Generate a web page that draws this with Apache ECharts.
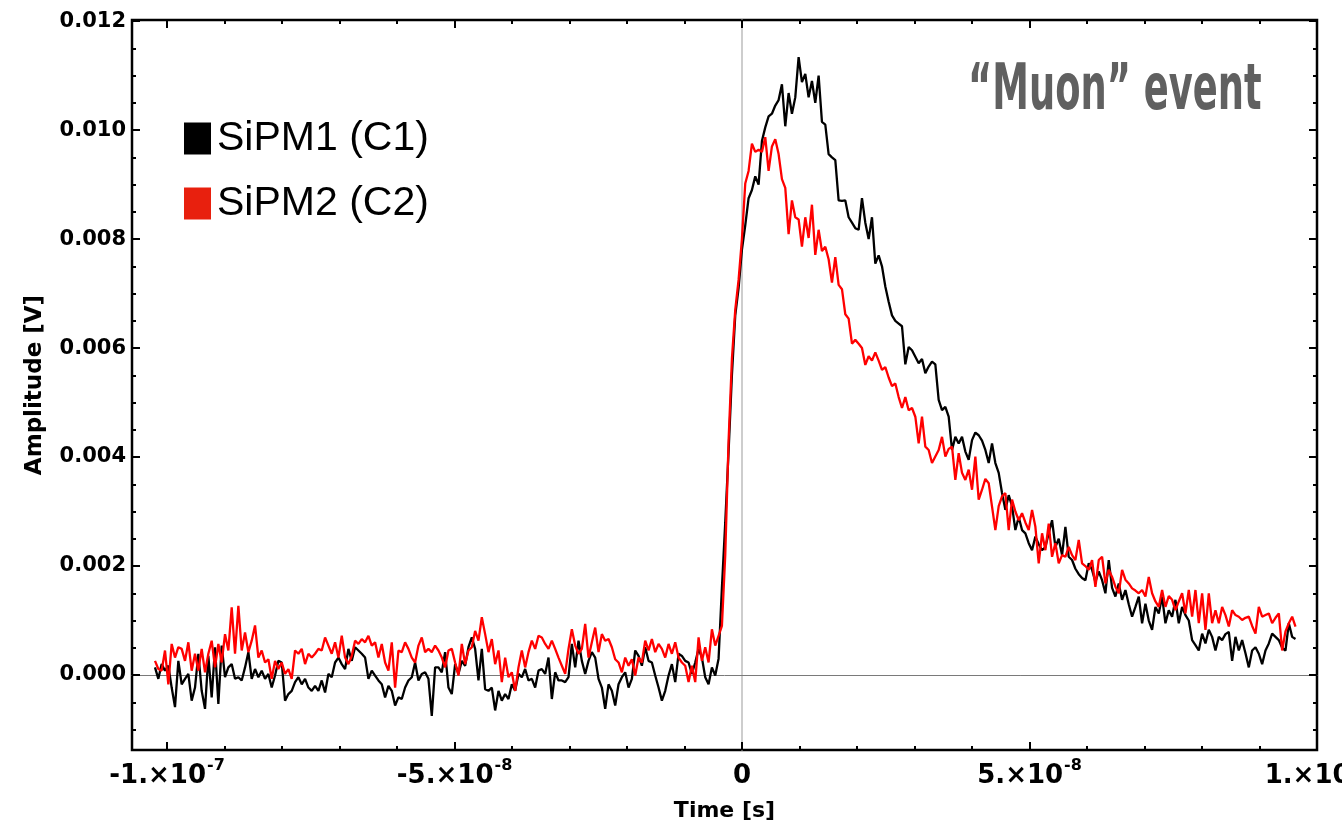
<!DOCTYPE html>
<html>
<head>
<meta charset="utf-8">
<script src="https://cdn.jsdelivr.net/npm/echarts@6/dist/echarts.min.js"></script>
<style>
html,body{margin:0;padding:0;background:#ffffff;}
#chart{width:1342px;height:832px;}
</style>
</head>
<body>
<div id="chart"></div>
<script>
// ---- sample grid (time of first sample and spacing, in ns) ----
const tStartNs = -102.1;
const tStepNs = 0.58;

// ---- SiPM1 (C1) amplitude, mV ----
const sipm1_mV = [
0.14,-0.07,0.20,0.08,0.17,-0.23,-0.59,0.26,-0.17,-0.07,
0.02,-0.47,-0.23,0.39,-0.29,-0.62,0.35,-0.41,0.51,-0.53,
0.54,-0.04,0.14,0.20,-0.07,-0.04,-0.10,0.14,0.42,-0.07,
0.11,-0.04,0.08,-0.07,0.02,-0.23,-0.01,0.26,0.23,-0.47,
-0.35,-0.29,-0.13,-0.04,-0.17,-0.07,-0.23,-0.29,-0.20,-0.29,
-0.10,-0.32,0.02,-0.04,0.23,0.32,0.20,0.11,0.48,0.26,
0.51,0.45,0.39,0.32,-0.07,0.08,-0.01,-0.10,-0.17,-0.41,
-0.20,-0.29,-0.56,-0.41,-0.44,-0.23,-0.10,-0.04,0.23,-0.10,
0.02,0.05,-0.07,-0.75,0.14,0.14,
0.05,0.42,-0.23,-0.35,0.20,0.02,0.26,0.17,0.51,0.69,
0.48,-0.10,0.48,-0.26,-0.29,-0.23,-0.65,-0.29,-0.47,-0.35,
-0.44,-0.17,-0.29,0.02,-0.04,0.11,-0.10,-0.07,-0.23,0.08,
0.11,0.02,0.32,-0.44,0.05,-0.10,-0.10,-0.13,-0.04,0.57,
0.14,0.63,0.26,0.02,0.26,0.42,0.32,-0.07,-0.23,-0.62,
-0.17,-0.29,-0.56,-0.17,-0.04,0.05,-0.23,-0.07,0.45,0.35,
0.17,0.51,0.26,0.23,-0.01,-0.23,-0.47,-0.29,-0.01,0.20,
-0.13,0.39,0.35,0.26,0.23,0.02,0.23,0.48,0.32,-0.04,
-0.17,0.14,-0.01,0.30,
1.6,2.8,4.1,5.5,6.6,7.1,7.8,8.25,8.75,8.9,
9.15,9.0,9.8,10.05,10.25,10.3,10.45,10.55,10.84,10.07,
10.68,10.3,10.6,11.34,10.88,11.03,10.6,10.9,10.5,11.0,
10.15,10.1,9.56,9.5,9.45,8.71,8.7,8.71,8.4,8.3,
8.2,8.17,8.75,8.3,8.0,8.4,7.55,7.7,
7.5,7.13,6.85,6.6,6.5,6.45,6.4,5.7,6.02,5.96,
5.84,5.72,5.8,5.54,5.66,5.75,5.7,5.05,4.86,4.92,
4.74,4.13,4.37,4.25,4.37,4.1,3.95,4.31,4.45,4.4,
4.3,4.13,3.89,4.25,3.89,3.71,3.34,3.03,3.3,3.1,
2.66,2.9,2.66,2.6,2.42,2.29,2.54,2.4,2.29,2.35,
2.6,2.84,2.35,2.5,2.2,2.72,2.17,2.11,1.95,1.85,
1.78,1.74,2.05,1.93,1.71,1.9,1.74,1.5,2.11,1.6,
1.44,1.68,1.38,1.56,1.3,1.07,1.25,1.44,0.95,1.31,
1.0,0.83,1.25,1.13,1.44,0.95,1.19,1.07,1.38,0.95,
1.25,1.1,1.0,0.64,0.55,0.45,0.76,0.58,0.83,0.7,
0.45,0.7,0.64,0.75,0.79,0.26,0.7,0.45,0.64,0.4,
0.14,0.45,0.51,0.39,0.2,0.45,0.58,0.76,0.7,0.64,
0.5,0.45,0.95,0.7,0.66
];

// ---- SiPM2 (C2) amplitude, mV ----
const sipm2_mV = [
0.26,0.11,0.08,0.45,-0.17,0.57,0.32,0.51,0.48,0.26,
0.60,0.08,0.39,0.08,0.48,0.05,0.39,0.63,0.14,0.57,
0.23,0.75,0.45,1.24,0.39,1.27,0.45,0.78,0.42,0.63,
0.91,0.32,0.45,0.23,0.29,-0.07,0.26,0.11,0.23,0.02,
0.11,-0.07,0.45,0.39,0.48,0.20,0.39,0.32,0.39,0.48,
0.45,0.69,0.54,0.39,0.60,0.32,0.72,0.32,0.20,0.35,
0.63,0.57,0.66,0.60,0.72,0.54,0.60,0.32,0.57,0.23,
0.08,0.60,-0.23,0.45,0.42,0.60,0.48,0.32,0.23,0.54,
0.69,0.42,0.48,0.42,0.54,0.45,
0.32,0.14,0.45,0.48,0.23,-0.01,0.57,0.20,0.45,0.51,
0.81,0.63,1.06,0.75,0.42,0.66,0.20,0.45,-0.13,0.32,
-0.04,0.05,-0.29,0.14,0.45,0.14,0.42,0.63,0.48,0.72,
0.69,0.57,0.48,0.63,0.48,0.32,0.17,0.02,0.48,0.84,
0.54,0.39,0.48,0.94,0.32,0.60,0.87,0.42,0.75,0.63,
0.66,0.51,0.29,0.23,0.05,0.32,0.17,0.29,-0.01,0.32,
0.23,0.63,0.45,0.66,0.42,0.57,0.48,0.32,0.57,0.39,
0.60,0.32,0.23,0.17,-0.13,0.17,-0.13,0.69,0.26,0.51,
0.23,0.84,0.54,0.72,
0.9,2.2,4.3,5.8,6.7,7.25,8.0,9.02,9.25,9.75,
9.6,9.64,9.6,9.87,9.25,9.7,9.83,9.56,9.1,8.94,
8.09,8.71,8.4,8.36,7.86,8.4,8.02,8.63,7.71,8.17,
7.78,7.86,7.63,7.2,7.67,7.16,7.08,6.62,6.54,6.08,
6.15,6.08,6.0,5.69,5.85,5.77,5.92,5.77,
5.6,5.65,5.46,5.3,5.35,5.1,4.9,5.1,4.86,4.9,
4.74,4.25,4.74,4.19,4.13,3.89,4.01,4.13,4.37,4.01,
4.15,4.19,3.58,4.07,3.71,3.58,3.77,3.4,4.01,3.22,
3.4,3.6,3.52,3.09,2.66,3.1,3.28,3.34,2.66,3.22,
3.0,2.84,2.97,2.8,2.66,3.03,2.72,2.05,2.6,2.29,
2.78,2.17,2.42,2.05,2.2,2.17,2.35,2.2,2.11,2.48,
2.05,2.0,1.93,2.11,1.62,2.11,2.17,1.68,1.93,1.8,
1.62,1.5,1.93,1.75,1.68,1.59,1.55,1.5,1.56,1.44,
1.8,1.5,1.35,1.25,1.56,1.25,1.45,1.38,1.19,1.35,
1.5,1.13,1.56,1.07,1.56,0.95,1.5,0.83,1.5,0.95,
1.19,0.95,1.25,1.1,0.89,1.19,1.1,1.07,1.01,1.05,
1.07,0.9,0.76,1.25,1.07,1.1,1.13,0.95,1.05,1.13,
0.45,0.8,0.95,1.07,0.89
];

const seriesNames = ['SiPM1 (C1)', 'SiPM2 (C2)'];
const titleText = '\u201CMuon\u201D event';
const xAxisTitle = 'Time [s]';
const yAxisTitle = 'Amplitude [V]';

// ---- tick positions and labels ----
const xMajorTicks = [-1e-7, -5e-8, 0, 5e-8, 1e-7];
const xTickMantissa = ['-1.\u00D710', '-5.\u00D710', '0', '5.\u00D710', '1.\u00D710'];
const xTickExponent = ['-7', '-8', '', '-8', '-7'];
const xMinorTicks = [-1e-7,-9e-8,-8e-8,-7e-8,-6e-8,-5e-8,-4e-8,-3e-8,-2e-8,-1e-8,0,1e-8,2e-8,3e-8,4e-8,5e-8,6e-8,7e-8,8e-8,9e-8,1e-7];
const yMajorTicks = [0, 0.002, 0.004, 0.006, 0.008, 0.010, 0.012];
const yTickLabels = ['0.000', '0.002', '0.004', '0.006', '0.008', '0.010', '0.012'];
const yMinorTicks = [-0.001,-0.0005,0,0.0005,0.001,0.0015,0.002,0.0025,0.003,0.0035,0.004,0.0045,0.005,0.0055,0.006,0.0065,0.007,0.0075,0.008,0.0085,0.009,0.0095,0.010,0.0105,0.011,0.0115,0.012];

const xMin = -1.061e-7, xMax = 1.0e-7;
const yMin = -0.001376, yMax = 0.01202;

const toPairs = arr => arr.map((v, k) => [(tStartNs + k * tStepNs) * 1e-9, v / 1000]);
const data1 = toPairs(sipm1_mV);
const data2 = toPairs(sipm2_mV);

const labelFont = '"DejaVu Sans", "Liberation Sans", sans-serif';
const legendFont = '"Liberation Sans", Arial, Helvetica, sans-serif';

function nearestIdx(list, v) {
  let best = 0, bd = Infinity;
  list.forEach((t, i) => { const d = Math.abs(t - v); if (d < bd) { bd = d; best = i; } });
  return best;
}

function tickAxisX(position, ticks, len, extra) {
  return Object.assign({
    type: 'value', min: xMin, max: xMax, position: position,
    axisLine: { show: false, onZero: false },
    splitLine: { show: false },
    axisTick: { show: true, inside: true, length: len, customValues: ticks, lineStyle: { color: '#000', width: 2 } },
    axisLabel: { show: false }
  }, extra || {});
}
function tickAxisY(position, ticks, len, extra) {
  return Object.assign({
    type: 'value', min: yMin, max: yMax, position: position,
    axisLine: { show: false, onZero: false },
    splitLine: { show: false },
    axisTick: { show: true, inside: true, length: len, customValues: ticks, lineStyle: { color: '#000', width: 2 } },
    axisLabel: { show: false }
  }, extra || {});
}

const chart = echarts.init(document.getElementById('chart'));
chart.setOption({
  animation: false,
  backgroundColor: '#ffffff',
  grid: { left: 132, right: 25, top: 20, bottom: 82, show: true, borderColor: '#000', borderWidth: 2.5, backgroundColor: '#ffffff', containLabel: false, outerBoundsMode: 'none' },
  legend: {
    orient: 'vertical', left: 179, top: 113, itemWidth: 27, itemHeight: 32, itemGap: 24,
    icon: 'rect', selectedMode: false,
    textStyle: { fontSize: 41, fontFamily: legendFont, color: '#000', padding: [0, 0, 0, 1] },
    data: [
      { name: seriesNames[0], itemStyle: { color: '#000000' } },
      { name: seriesNames[1], itemStyle: { color: '#e8200e' } }
    ]
  },
  graphic: [{
    type: 'text', x: 968, y: 92, scaleX: 0.64, z: 10,
    style: { text: titleText, fill: '#606060', fontFamily: '"Liberation Sans Narrow", "DejaVu Sans Condensed", sans-serif', fontWeight: 'bold', fontSize: 64, align: 'left', verticalAlign: 'middle' }
  }],
  xAxis: [
    tickAxisX('bottom', xMajorTicks, 8, {
      name: xAxisTitle, nameLocation: 'middle', nameGap: 50,
      nameTextStyle: { fontFamily: labelFont, fontWeight: 'bold', fontSize: 22, color: '#000' },
      axisLabel: {
        show: true, customValues: xMajorTicks, margin: 7, hideOverlap: false,
        formatter: v => { const i = nearestIdx(xMajorTicks, v); return xTickExponent[i] ? '{m|' + xTickMantissa[i] + '}{e|' + xTickExponent[i] + '}' : '{m|' + xTickMantissa[i] + '}'; },
        rich: {
          m: { fontFamily: labelFont, fontWeight: 'bold', fontSize: 26, color: '#000', lineHeight: 32, verticalAlign: 'bottom' },
          e: { fontFamily: labelFont, fontWeight: 'bold', fontSize: 16, color: '#000', lineHeight: 32, verticalAlign: 'top', padding: [1, 0, 0, 1] }
        }
      }
    }),
    tickAxisX('bottom', xMinorTicks, 4),
    tickAxisX('top', xMajorTicks, 8),
    tickAxisX('top', xMinorTicks, 4),
    { type: 'value', min: xMin, max: xMax, position: 'bottom',
      axisLine: { show: true, onZero: true, onZeroAxisIndex: 0, lineStyle: { color: '#7a7a7a', width: 1 } },
      axisTick: { show: false }, axisLabel: { show: false }, splitLine: { show: false } }
  ],
  yAxis: [
    tickAxisY('left', yMajorTicks, 8, {
      name: yAxisTitle, nameLocation: 'middle', nameGap: 85, nameRotate: 90,
      nameTextStyle: { fontFamily: labelFont, fontWeight: 'bold', fontSize: 23, color: '#000' },
      axisLabel: {
        show: true, customValues: yMajorTicks, margin: 6,
        formatter: v => yTickLabels[nearestIdx(yMajorTicks, v)],
        fontFamily: labelFont, fontWeight: 'bold', fontSize: 21, color: '#000'
      }
    }),
    tickAxisY('left', yMinorTicks, 4),
    tickAxisY('right', yMajorTicks, 8),
    tickAxisY('right', yMinorTicks, 4),
    { type: 'value', min: yMin, max: yMax, position: 'left',
      axisLine: { show: true, onZero: true, onZeroAxisIndex: 0, lineStyle: { color: '#bdbdbd', width: 1.5 } },
      axisTick: { show: false }, axisLabel: { show: false }, splitLine: { show: false } }
  ],
  series: [
    { name: seriesNames[0], type: 'line', data: data1, xAxisIndex: 0, yAxisIndex: 0,
      showSymbol: false, symbol: 'none', smooth: false, lineStyle: { color: '#000000', width: 2.3 }, itemStyle: { color: '#000000' }, z: 3 },
    { name: seriesNames[1], type: 'line', data: data2, xAxisIndex: 0, yAxisIndex: 0,
      showSymbol: false, symbol: 'none', smooth: false, lineStyle: { color: '#ff0000', width: 2.3 }, itemStyle: { color: '#ff0000' }, z: 4 }
  ]
});
</script>
</body>
</html>
